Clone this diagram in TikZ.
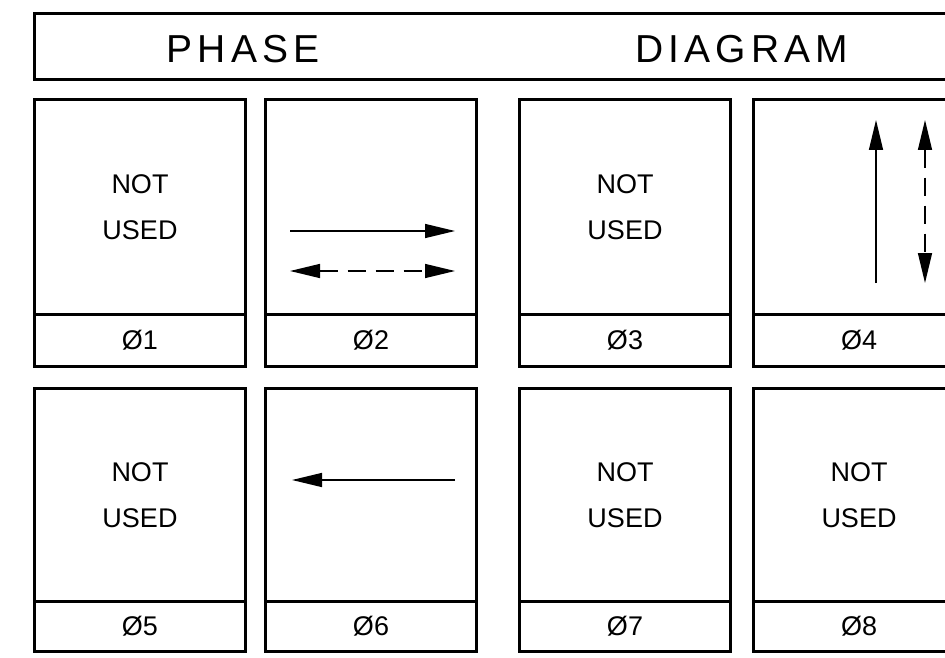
\documentclass[tikz,border=0pt]{standalone}
\usepackage{fontspec}
\setmainfont{Liberation Sans}
\newfontfamily\titlefont[LetterSpace=13]{Liberation Sans}
\usetikzlibrary{arrows.meta}
\begin{document}
\begin{tikzpicture}[x=1pt,y=-1pt,line width=3pt,
  box/.style={draw,anchor=north west,inner sep=0pt,line width=3pt},
  upper/.style={box,minimum width=211pt,minimum height=215pt,align=center,
    font=\fontsize{27}{46}\selectfont},
  lower/.style={box,minimum width=211pt,minimum height=52pt,
    font=\fontsize{27}{30}\selectfont},
  heading/.style={font=\titlefont\fontsize{39}{40}\selectfont},
  flow/.style={-{Triangle[length=30pt,width=14pt]},line width=1.5pt},
  twoway/.style={{Triangle[length=30pt,width=14pt]}-{Triangle[length=30pt,width=14pt]},
    line width=1.5pt,dash pattern=on 18pt off 10pt}]
\useasboundingbox (0,0) rectangle (945,658);
\clip (0,0) rectangle (945,658);
% title bar
\node [box,minimum width=940pt,minimum height=66pt](bar) at (33,12) {};
\node [heading](phase) at (243,49) {PHASE};
\node [heading](diagram) at (742,49) {DIAGRAM};
% first row
\node [upper](p1) at (33,98) {NOT\\USED};
\node [upper](p2) at (264,98) {};
\node [upper](p3) at (518,98) {NOT\\USED};
\node [upper](p4) at (752,98) {};
\node [lower](l1) at (33,313) {Ø1};
\node [lower](l2) at (264,313) {Ø2};
\node [lower](l3) at (518,313) {Ø3};
\node [lower](l4) at (752,313) {Ø4};
% second row
\node [upper,minimum height=213pt](p5) at (33,387) {NOT\\USED};
\node [upper,minimum height=213pt](p6) at (264,387) {};
\node [upper,minimum height=213pt](p7) at (518,387) {NOT\\USED};
\node [upper,minimum height=213pt](p8) at (752,387) {NOT\\USED};
\node [lower,minimum height=50pt](l5) at (33,600) {Ø5};
\node [lower,minimum height=50pt](l6) at (264,600) {Ø6};
\node [lower,minimum height=50pt](l7) at (518,600) {Ø7};
\node [lower,minimum height=50pt](l8) at (752,600) {Ø8};
% arrow ends
\coordinate (a2) at (290,231);
\coordinate (b2) at (455,231);
\coordinate (c2) at (290,271);
\coordinate (d2) at (455,271);
\coordinate (a4) at (876,283);
\coordinate (b4) at (876,120);
\coordinate (c4) at (925,120);
\coordinate (d4) at (925,283);
\coordinate (a6) at (455,480);
\coordinate (b6) at (292,480);
\path
	(a2) edge [flow] (b2)
	(c2) edge [twoway] (d2)
	(a4) edge [flow] (b4)
	(c4) edge [twoway] (d4)
	(a6) edge [flow] (b6)
	;
\end{tikzpicture}
\end{document}
